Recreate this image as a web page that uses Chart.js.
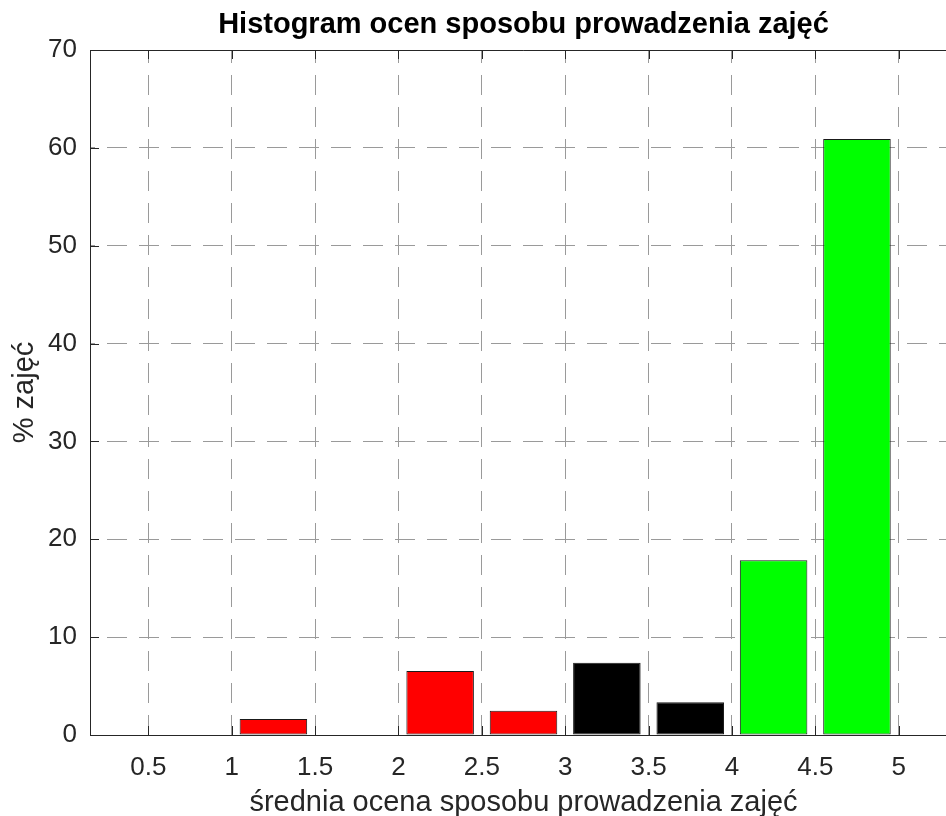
<!DOCTYPE html>
<html>
<head>
<meta charset="utf-8">
<script src="https://cdn.jsdelivr.net/npm/chart.js@4/dist/chart.umd.min.js"></script>
<style>
  html, body { margin: 0; padding: 0; background: #fff; overflow: hidden; }
  #wrap { width: 960px; height: 816px; }
</style>
</head>
<body>
<div id="wrap"><canvas id="histChart"></canvas></div>
<script>
// histogram bins (centres) and percentage of classes in each bin
var binCenters = [0.75, 1.25, 1.75, 2.25, 2.75, 3.25, 3.75, 4.25, 4.75];
var percentZajec = [0, 1.63, 0, 6.53, 2.48, 7.38, 3.34, 17.86, 60.9];
var xTicks = [0.5, 1, 1.5, 2, 2.5, 3, 3.5, 4, 4.5, 5];
var yTicks = [0, 10, 20, 30, 40, 50, 60, 70];

var axisColor = '#262626';
var gridColor = '#9a9a9a';
var fontFamily = '"Liberation Sans", Arial, Helvetica, sans-serif';

function barColor(ctx) {
    var v = binCenters[ctx.dataIndex];
    if (v < 3) return '#ff0000';
    if (v < 4) return '#000000';
    return '#00ff00';
}

// inward ticks on bottom, top and left + top frame line (matlab style box)
var boxTicks = {
    id: 'boxTicks',
    afterDraw: function(chart) {
        var ctx = chart.ctx, a = chart.chartArea;
        var xs = chart.scales.x, ys = chart.scales.y;
        var len = 9;
        ctx.save();
        ctx.strokeStyle = axisColor;
        ctx.lineWidth = 1;
        ctx.beginPath();
        ctx.moveTo(a.left, a.top + 0.5);
        ctx.lineTo(a.right, a.top + 0.5);
        xs.ticks.forEach(function(t) {
            var px = Math.round(xs.getPixelForValue(t.value)) + 0.5;
            ctx.moveTo(px, a.bottom);
            ctx.lineTo(px, a.bottom - len);
            ctx.moveTo(px, a.top);
            ctx.lineTo(px, a.top + len);
        });
        ys.ticks.forEach(function(t) {
            var py = Math.round(ys.getPixelForValue(t.value)) + 0.5;
            ctx.moveTo(a.left, py);
            ctx.lineTo(a.left + len, py);
        });
        ctx.stroke();
        ctx.restore();
    }
};

document.addEventListener('DOMContentLoaded', function() {
    var points = binCenters.map(function(c, i) { return { x: c, y: percentZajec[i] }; });

    new Chart(document.getElementById('histChart'), {
        type: 'bar',
        data: {
            datasets: [{
                data: points,
                backgroundColor: barColor,
                borderColor: '#1a1a1a',
                borderWidth: 1,
                borderSkipped: false,
                barPercentage: 0.81,
                categoryPercentage: 1
            }]
        },
        plugins: [boxTicks],
        options: {
            responsive: true,
            maintainAspectRatio: false,
            animation: false,
            layout: { padding: { left: 0, right: 3, top: 0, bottom: 0 } },
            plugins: {
                legend: { display: false },
                tooltip: { enabled: false },
                title: {
                    display: true,
                    fullSize: false,
                    text: 'Histogram ocen sposobu prowadzenia zajęć',
                    color: '#000',
                    font: { family: fontFamily, size: 29, weight: 'bold', lineHeight: 1.2 },
                    padding: { top: 8, bottom: 7.2 }
                }
            },
            scales: {
                x: {
                    type: 'linear',
                    offset: false,
                    min: 0.15,
                    max: 5.35,
                    afterBuildTicks: function(s) { s.ticks = xTicks.map(function(v) { return { value: v }; }); },
                    afterFit: function(s) { s.height = 81; },
                    grid: { offset: false, color: gridColor, lineWidth: 1, drawTicks: false },
                    border: { display: true, color: axisColor, width: 1, dash: [20, 12], dashOffset: 7 },
                    ticks: {
                        color: axisColor,
                        padding: 17,
                        maxRotation: 0,
                        autoSkip: false,
                        font: { family: fontFamily, size: 26 },
                        callback: function(v) { return String(v); }
                    },
                    title: {
                        display: true,
                        text: 'średnia ocena sposobu prowadzenia zajęć',
                        color: axisColor,
                        font: { family: fontFamily, size: 29 },
                        padding: { top: 0, bottom: -4 }
                    }
                },
                y: {
                    min: 0,
                    max: 70,
                    afterBuildTicks: function(s) { s.ticks = yTicks.map(function(v) { return { value: v }; }); },
                    afterFit: function(s) { s.width = 90; },
                    grid: { color: gridColor, lineWidth: 1, drawTicks: false },
                    border: { display: true, color: axisColor, width: 1, dash: [20, 12], dashOffset: 16 },
                    ticks: {
                        color: axisColor,
                        padding: 13,
                        font: { family: fontFamily, size: 26 }
                    },
                    title: {
                        display: true,
                        text: '% zajęć',
                        color: axisColor,
                        font: { family: fontFamily, size: 29 },
                        padding: { top: 8, bottom: 0 }
                    }
                }
            }
        }
    });
});
</script>
</body>
</html>
